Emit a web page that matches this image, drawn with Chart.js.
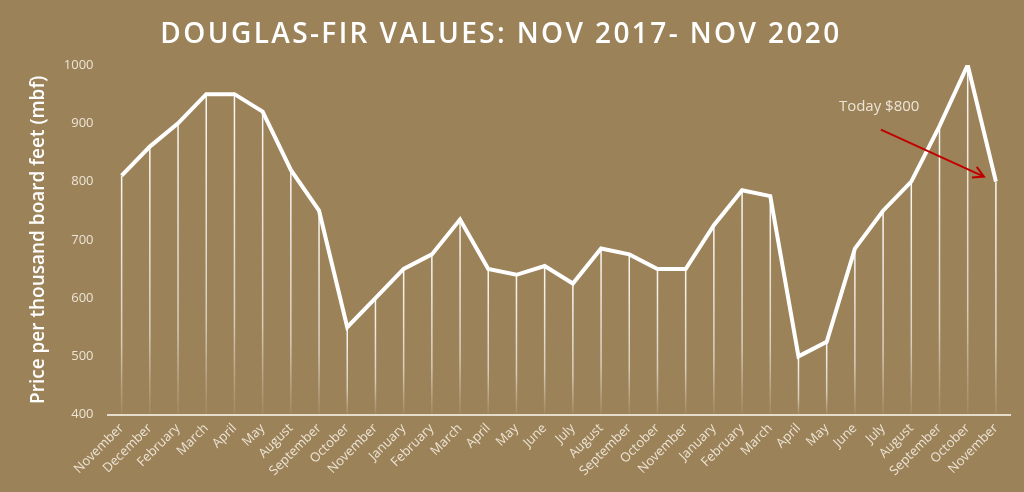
<!DOCTYPE html>
<html>
<head>
<meta charset="utf-8">
<script src="https://cdn.jsdelivr.net/npm/chart.js@4.4.0/dist/chart.umd.min.js"></script>
<style>
  html, body { margin: 0; padding: 0; background: #9c8258; }
  #wrap { width: 1024px; height: 492px; }
</style>
</head>
<body>
<div id="wrap"><canvas id="chart" width="1024" height="492"></canvas></div>
<script>
// months, Nov 2017 - Nov 2020 (some months skipped in the source)
var months = ['November', 'December', 'February', 'March', 'April', 'May', 'August', 'September', 'October',
  'November', 'January', 'February', 'March', 'April', 'May', 'June', 'July', 'August', 'September', 'October',
  'November', 'January', 'February', 'March', 'April', 'May', 'June', 'July', 'August', 'September', 'October',
  'November'];
// price per mbf
var prices = [810, 860, 900, 950, 950, 920, 820, 750, 550,
  600, 650, 675, 735, 650, 640, 655, 625, 685, 675, 650,
  650, 725, 785, 775, 500, 525, 685, 750, 800, 895, 1000,
  800];
var yTicks = [400, 500, 600, 700, 800, 900, 1000];
var titleText = 'DOUGLAS-FIR VALUES: NOV 2017- NOV 2020';
var noteText = 'Today $800';

var bg = '#9c8258';
var light = '#ece4d6';

// vertical lines from each point down to the axis, fading out
var dropLines = {
  id: 'dropLines',
  beforeDatasetsDraw: function (chart) {
    var ctx = chart.ctx;
    var meta = chart.getDatasetMeta(0);
    var bottom = chart.chartArea.bottom;
    ctx.save();
    meta.data.forEach(function (pt) {
      var g = ctx.createLinearGradient(0, pt.y, 0, bottom);
      g.addColorStop(0, 'rgba(255,255,255,0.95)');
      g.addColorStop(0.7, 'rgba(255,255,255,0.6)');
      g.addColorStop(1, 'rgba(255,255,255,0.05)');
      ctx.strokeStyle = g;
      ctx.lineWidth = 1.5;
      ctx.beginPath();
      ctx.moveTo(pt.x, pt.y);
      ctx.lineTo(pt.x, bottom);
      ctx.stroke();
    });
    ctx.restore();
  }
};

// "Today $800" label and red arrow pointing at the last point
var todayNote = {
  id: 'todayNote',
  afterDatasetsDraw: function (chart) {
    var ctx = chart.ctx;
    var meta = chart.getDatasetMeta(0);
    var last = meta.data[meta.data.length - 1];
    var ex = last.x - 12, ey = last.y - 5;
    var sx = last.x - 115, sy = last.y - 52;
    ctx.save();
    ctx.strokeStyle = '#c00000';
    ctx.lineWidth = 2;
    ctx.beginPath();
    ctx.moveTo(sx, sy);
    ctx.lineTo(ex, ey);
    ctx.stroke();
    var a = Math.atan2(ey - sy, ex - sx);
    ctx.beginPath();
    ctx.moveTo(ex - 12 * Math.cos(a - 0.5), ey - 12 * Math.sin(a - 0.5));
    ctx.lineTo(ex, ey);
    ctx.lineTo(ex - 12 * Math.cos(a + 0.5), ey - 12 * Math.sin(a + 0.5));
    ctx.stroke();
    ctx.fillStyle = light;
    ctx.font = '15px "Open Sans"';
    ctx.textAlign = 'left';
    ctx.textBaseline = 'middle';
    ctx.fillText(noteText, last.x - 157, last.y - 75);
    ctx.restore();
  }
};

// background + spaced-out title (room kept by layout padding)
var bgTitle = {
  id: 'bgTitle',
  beforeDraw: function (chart) {
    var ctx = chart.ctx;
    ctx.save();
    ctx.fillStyle = bg;
    ctx.fillRect(0, 0, chart.width, chart.height);
    ctx.fillStyle = '#ffffff';
    ctx.font = '600 28px "Open Sans"';
    ctx.letterSpacing = '2.4px';
    ctx.textAlign = 'center';
    ctx.textBaseline = 'middle';
    ctx.fillText(titleText, 501, 35);
    ctx.restore();
  }
};

new Chart(document.getElementById('chart'), {
  type: 'line',
  data: {
    labels: months,
    datasets: [{
      data: prices,
      borderColor: '#ffffff',
      borderWidth: 4,
      pointRadius: 0,
      tension: 0,
      fill: false
    }]
  },
  options: {
    responsive: false,
    animation: false,
    layout: { padding: { left: 27, right: 14, top: 65, bottom: 7 } },
    plugins: {
      legend: { display: false },
      tooltip: { enabled: false }
    },
    scales: {
      x: {
        offset: true,
        grid: { display: false, drawTicks: false },
        border: { display: true, color: '#e6dccb', width: 2 },
        ticks: {
          color: light,
          autoSkip: false,
          maxRotation: 45,
          minRotation: 45,
          padding: 6,
          font: { family: '"Open Sans"', size: 13 }
        }
      },
      y: {
        min: 400,
        max: 1000,
        afterBuildTicks: function (axis) {
          axis.ticks = yTicks.map(function (v) { return { value: v }; });
        },
        grid: { display: false, drawTicks: false },
        border: { display: false },
        ticks: {
          color: light,
          padding: 14,
          font: { family: '"Open Sans"', size: 13 },
          callback: function (v) { return String(v); }
        },
        title: {
          display: true,
          text: 'Price per thousand board feet (mbf)',
          color: '#ffffff',
          font: { family: '"Open Sans"', size: 19, weight: '600' },
          padding: { top: 0, bottom: 0 }
        }
      }
    }
  },
  plugins: [bgTitle, dropLines, todayNote]
});
</script>
</body>
</html>
